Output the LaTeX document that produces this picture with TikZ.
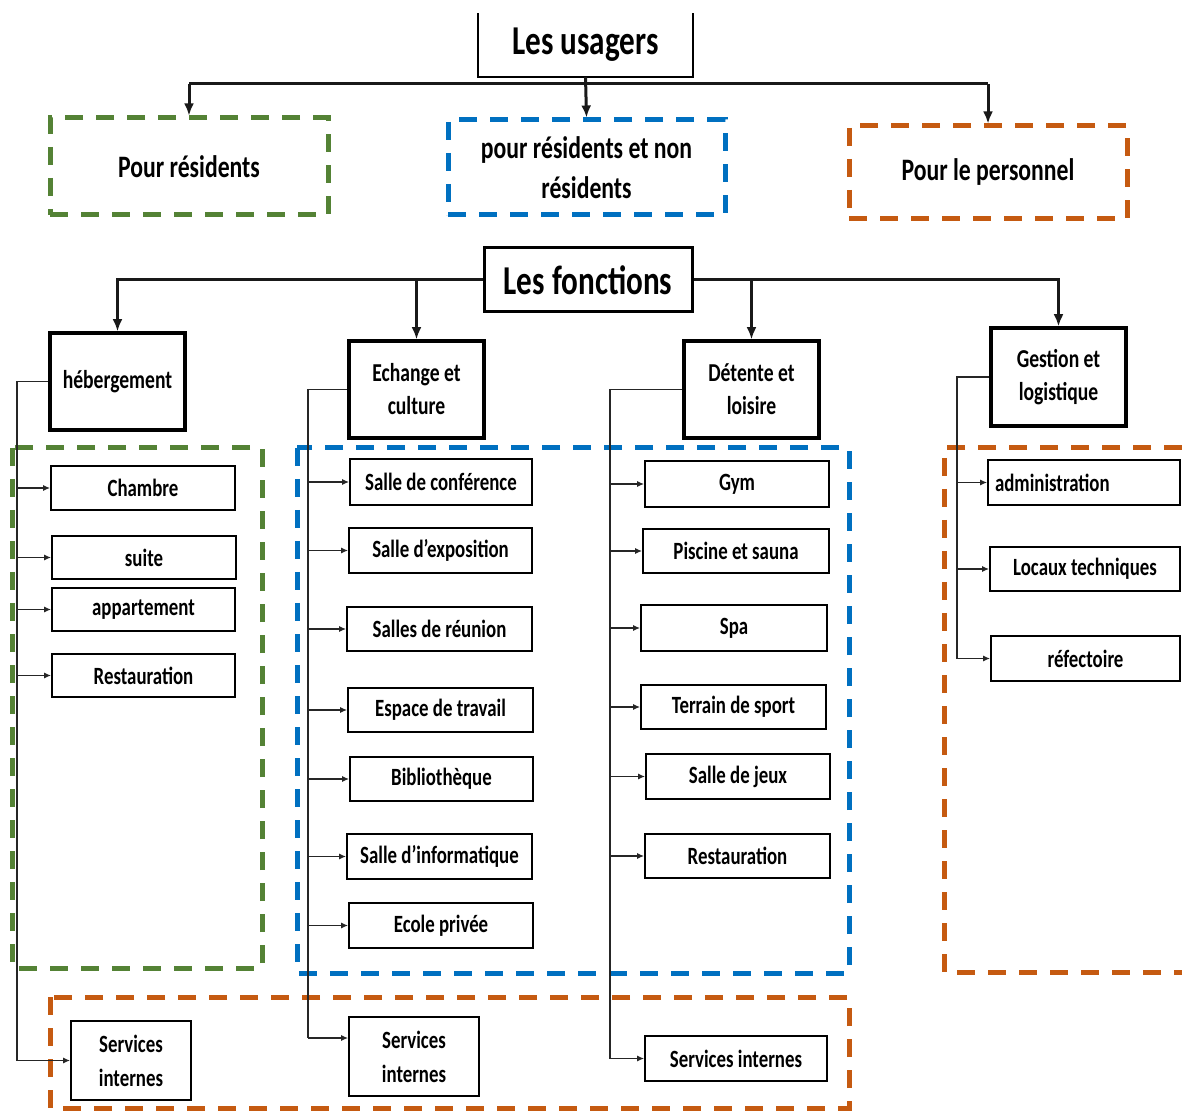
\documentclass[tikz,border=0pt]{standalone}
\usepackage{fontspec}
\setmainfont{Carlito}[FakeStretch=0.76]
\usetikzlibrary{arrows.meta}
\definecolor{cgreen}{HTML}{548235}
\definecolor{cblue}{HTML}{0070C0}
\definecolor{corange}{HTML}{C55A11}
\begin{document}
\begin{tikzpicture}[x=0.5pt,y=-0.5pt,
 mainline/.style={line width=1.5pt, black!90},
 mainarrow/.style={mainline, -{Latex[length=6pt,width=5pt]}},
 thinline/.style={line width=0.7pt, black!85},
 thinarrow/.style={thinline, -{Latex[length=3.5pt,width=3pt]}},
 gbox/.style={draw=#1, line width=2.5pt, dash pattern=on 9pt off 6.5pt},
 grp/.style={gbox=#1, inner sep=0pt, font=\fontsize{15.6}{20}\selectfont\bfseries, align=center},
 cat/.style={draw, line width=1.75pt, inner sep=0pt, align=center, font=\fontsize{12.9}{16.5}\selectfont\bfseries},
 leaf/.style={draw, line width=0.8pt, inner sep=0pt, align=center, font=\fontsize{12.4}{17}\selectfont\bfseries},
 ttl/.style={inner sep=0pt, font=\fontsize{20.5}{22}\selectfont\bfseries},
]
\useasboundingbox (0,0) rectangle (1182,1111);

% ---- Les usagers ----
\node[ttl, minimum width=107.5pt, minimum height=31.5pt] (us) at (585.5,45) {Les usagers};
\draw[line width=1pt] (us.north west) -- (us.south west) -- (us.south east) -- (us.north east);

\node[grp=cgreen, minimum width=139pt, minimum height=48.5pt] (pr) at (189,166.5) {Pour résidents};
\node[grp=cblue, minimum width=138.5pt, minimum height=47.5pt] (pb) at (586.5,167.5) {pour résidents et non\\résidents};
\node[grp=corange, minimum width=139pt, minimum height=46.5pt] (pp) at (988,172.5) {Pour le personnel};

\coordinate (hl) at (189,84);
\coordinate (hr) at (988,84);
\draw[mainline] (hl) -- (hr);
\draw[mainarrow] (us.south) -- (pb.north);
\draw[mainarrow] (hl) -- (pr.north);
\draw[mainarrow] (hr) -- (pp.north);

% ---- Les fonctions ----
\node[ttl, draw, line width=1.5pt, minimum width=104pt, minimum height=32pt] (lf) at (588,280) {Les fonctions};

\node[cat, minimum width=67.5pt, minimum height=48.5pt] (heb) at (117.5,381.5) {hébergement};
\node[cat, minimum width=67.5pt, minimum height=48.5pt] (ech) at (416.5,389.5) {Echange et\\culture};
\node[cat, minimum width=67.5pt, minimum height=48.5pt] (det) at (751.5,389.5) {Détente et\\loisire};
\node[cat, minimum width=67.5pt, minimum height=49pt] (ges) at (1058.5,377) {Gestion et\\logistique};

\draw[mainarrow] (lf.west) -| (heb.north);
\draw[mainarrow] (lf.east) -| (ges.north);
\draw[mainarrow] (ech.north |- lf.west) -- (ech.north);
\draw[mainarrow] (det.north |- lf.east) -- (det.north);

% ---- dashed group frames ----
\draw[gbox=cgreen] (12,448) rectangle (262,968);
\draw[gbox=cblue] (297,448) rectangle (849,973);
\draw[gbox=corange] (1182,448) -- (944,448) -- (944,972) -- (1182,972);
\draw[gbox=corange] (50,997) rectangle (849,1108);

% ---- hébergement ----
\node[leaf, minimum width=92pt, minimum height=22pt] (c1) at (143,488) {Chambre};
\node[leaf, minimum width=92pt, minimum height=21.5pt] (c2) at (144,557.5) {suite};
\node[leaf, minimum width=91.5pt, minimum height=21.5pt] (c3) at (143.5,609.5) {appartement};
\node[leaf, minimum width=91.5pt, minimum height=21.5pt] (c4) at (143.5,675.5) {Restauration};
\node[leaf, minimum width=60pt, minimum height=39.5pt] (c5) at (131,1060.5) {Services\\internes};

\coordinate (ht) at (17,381.5);
\coordinate (hb) at (17,1060.5);
\draw[thinline] (heb.west) -- (ht) -- (hb);
\draw[thinarrow] (hb) -- (c5.west);
\foreach \n in {c1,c2,c3,c4} \draw[thinarrow] (ht |- \n.west) -- (\n.west);

% ---- Echange et culture ----
\node[leaf, minimum width=91pt, minimum height=23pt] (e1) at (441,482) {Salle de conférence};
\node[leaf, minimum width=91.5pt, minimum height=22.5pt] (e2) at (440.5,550.5) {Salle d’exposition};
\node[leaf, minimum width=92.5pt, minimum height=22pt] (e3) at (439.5,629) {Salles de réunion};
\node[leaf, minimum width=92.5pt, minimum height=22pt] (e4) at (440.5,710) {Espace de travail};
\node[leaf, minimum width=91.5pt, minimum height=22pt] (e5) at (441.5,779) {Bibliothèque};
\node[leaf, minimum width=92.5pt, minimum height=22.5pt] (e6) at (439.5,856.5) {Salle d’informatique};
\node[leaf, minimum width=92pt, minimum height=22.5pt] (e7) at (441,925.5) {Ecole privée};
\node[leaf, minimum width=65pt, minimum height=39.5pt] (e8) at (414,1056.5) {Services\\internes};

\coordinate (et) at (308,389.5);
\coordinate (eb) at (308,1038);
\draw[thinline] (ech.west) -- (et) -- (eb);
\draw[thinarrow] (eb) -- (e8.west |- eb);
\foreach \n in {e1,e2,e3,e4,e5,e6,e7} \draw[thinarrow] (et |- \n.west) -- (\n.west);

% ---- Détente et loisire ----
\node[leaf, minimum width=92pt, minimum height=23pt] (d1) at (737,484) {Gym};
\node[leaf, minimum width=93pt, minimum height=22pt] (d2) at (736,551) {Piscine et sauna};
\node[leaf, minimum width=93pt, minimum height=23pt] (d3) at (734,628) {Spa};
\node[leaf, minimum width=92.5pt, minimum height=22pt] (d4) at (733.5,707) {Terrain de sport};
\node[leaf, minimum width=92pt, minimum height=22.5pt] (d5) at (738,776.5) {Salle de jeux};
\node[leaf, minimum width=92.5pt, minimum height=22pt] (d6) at (737.5,856) {Restauration};
\node[leaf, minimum width=91pt, minimum height=22.5pt] (d7) at (736,1058.5) {Services internes};

\coordinate (dt) at (610,389.5);
\coordinate (db) at (610,1058.5);
\draw[thinline] (det.west) -- (dt) -- (db);
\draw[thinarrow] (db) -- (d7.west);
\foreach \n in {d1,d2,d3,d4,d5,d6} \draw[thinarrow] (dt |- \n.west) -- (\n.west);

% ---- Gestion et logistique ----
\node[leaf, minimum width=96pt, minimum height=22.5pt, inner xsep=3.5pt, text width=89pt, align=left] (g1) at (1084,482.5) {administration};
\node[leaf, minimum width=95pt, minimum height=22pt] (g2) at (1085,569) {Locaux techniques};
\node[leaf, minimum width=94.5pt, minimum height=22.5pt] (g3) at (1085.5,658.5) {réfectoire};

\coordinate (gt) at (957,377);
\coordinate (gb) at (957,658.5);
\draw[thinline] (ges.west) -- (gt) -- (gb);
\draw[thinarrow] (gb) -- (g3.west);
\foreach \n in {g1,g2} \draw[thinarrow] (gt |- \n.west) -- (\n.west);

\end{tikzpicture}
\end{document}
